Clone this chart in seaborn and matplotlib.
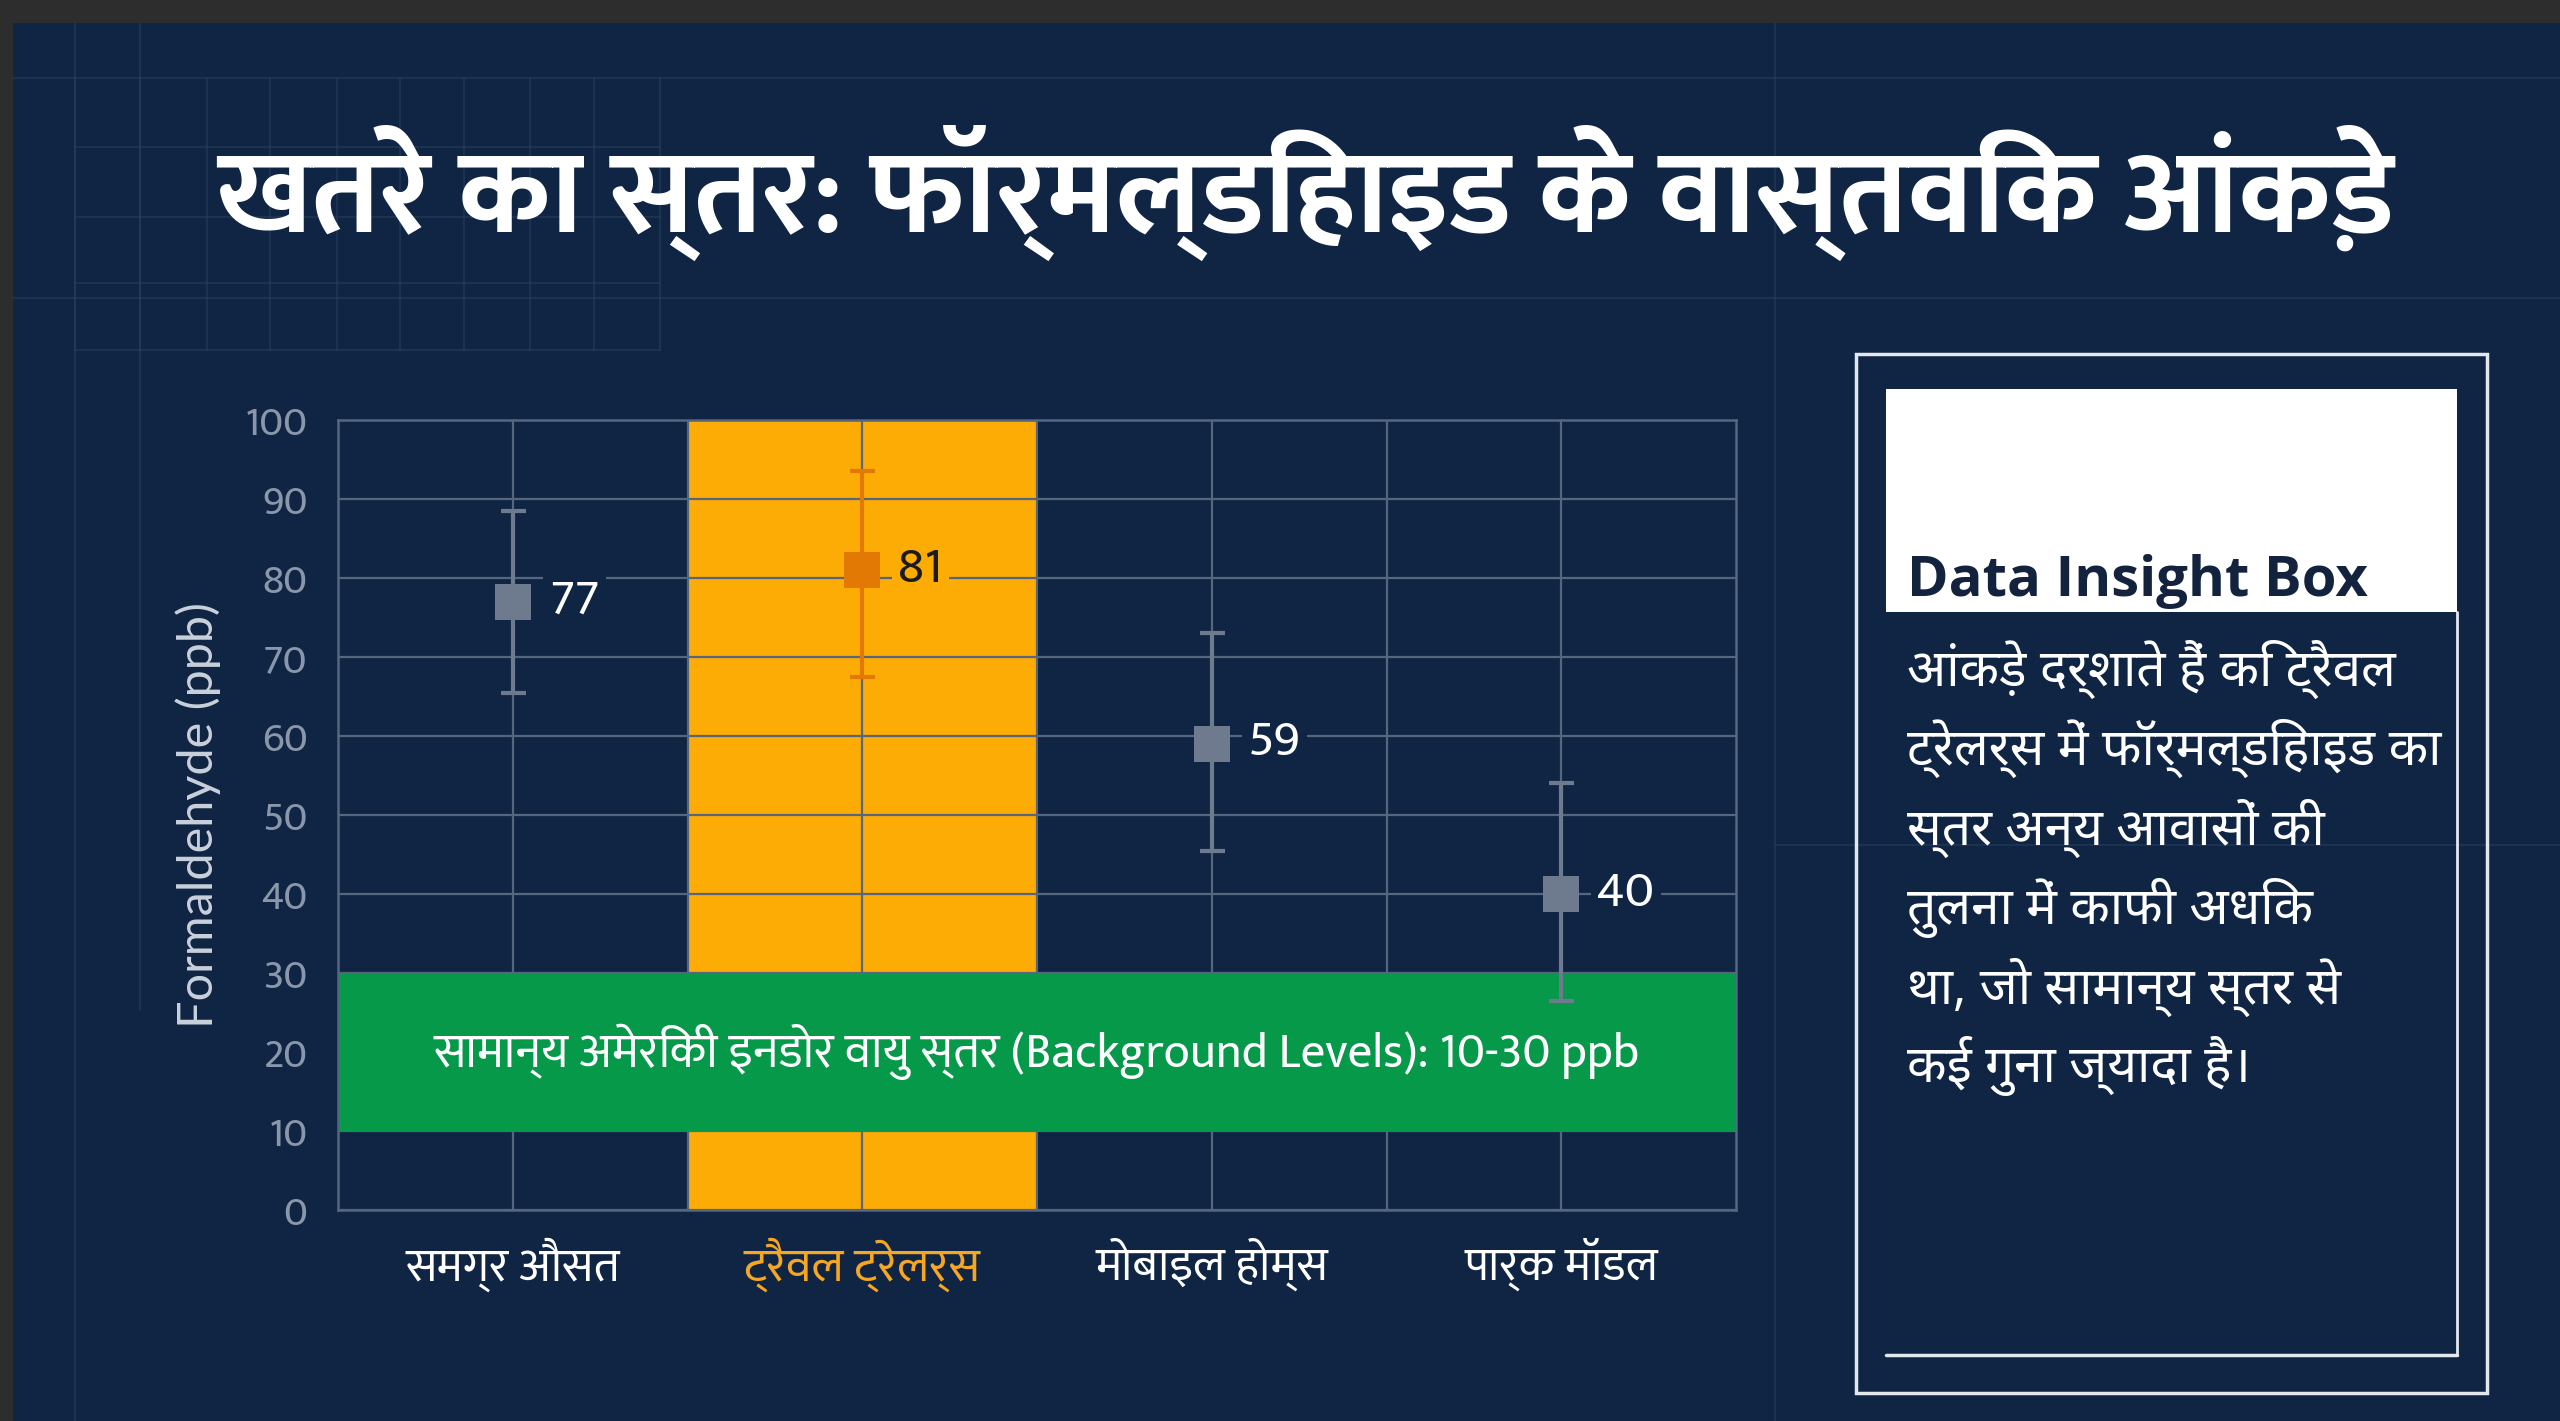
import matplotlib
matplotlib.use("Agg")
import matplotlib.pyplot as plt
from matplotlib import font_manager as fm
from matplotlib.lines import Line2D
from matplotlib.patches import Rectangle
import seaborn as sns
import pandas as pd

# data
categories = ["समग्र औसत", "ट्रैवल ट्रेलर्स", "मोबाइल होम्स", "पार्क मॉडल"]
values = [77, 81, 59, 40]
err_low = [65.5, 67.5, 45.5, 26.5]
err_high = [88.5, 93.5, 73, 54]
highlight = [False, True, False, False]
background_range = [10, 30]
y_ticks = list(range(0, 101, 10))

title = "खतरे का स्तर: फॉर्मल्डिहाइड के वास्तविक आंकड़े"
y_label = "Formaldehyde (ppb)"
band_text = "सामान्य अमेरिकी इनडोर वायु स्तर (Background Levels): 10-30 ppb"
box_title = "Data Insight Box"
box_lines = [
    "आंकड़े दर्शाते हैं कि ट्रैवल",
    "ट्रेलर्स में फॉर्मल्डिहाइड का",
    "स्तर अन्य आवासों की",
    "तुलना में काफी अधिक",
    "था, जो सामान्य स्तर से",
    "कई गुना ज्यादा है।",
]

BG = "#0f2543"
GRID = "#56667e"
GREY = "#6e7b8f"
ORANGE_BAND = "#fdab05"
ORANGE_MARK = "#e27905"
GREEN = "#06994a"
TICK_ORANGE = "#f5a623"

have = {f.name for f in fm.fontManager.ttflist}


def fams(*names):
    return [n for n in names if n in have] + ["DejaVu Sans"]


F_COND = fams("Ek Mukta", "Noto Sans Devanagari", "FreeSans")
F_BODY = fams("Open Sans", "Noto Sans Devanagari", "Ek Mukta", "FreeSans")
F_LABEL = fams("Lato", "Open Sans")

sns.set_style("dark", {"axes.facecolor": BG, "figure.facecolor": BG})

df = pd.DataFrame({
    "category": categories,
    "value": values,
    "group": ["hi" if h else "base" for h in highlight],
})

fig = plt.figure(figsize=(25.6, 14.21), dpi=100)
W, H = 2560, 1421

# window chrome + faint blueprint lines in the background
fig.add_artist(Rectangle((0, 1 - 23 / H), 1, 23 / H, transform=fig.transFigure,
                         fc="#2d2d2d", ec="none", zorder=0))
fig.add_artist(Rectangle((0, 0), 13 / W, 1, transform=fig.transFigure,
                         fc="#2d2d2d", ec="none", zorder=0))
faint = dict(color="#2a4262", lw=1.2, alpha=0.55, zorder=0)
for yy in [78, 298]:
    fig.add_artist(Line2D([13 / W, 1], [1 - yy / H, 1 - yy / H], transform=fig.transFigure, **faint))
for xx in [75, 140, 207, 270, 337, 400, 464, 530, 594, 660]:
    fig.add_artist(Line2D([xx / W, xx / W], [1 - 78 / H, 1 - 350 / H], transform=fig.transFigure, **faint))
for yy in [147, 217, 283, 350]:
    fig.add_artist(Line2D([75 / W, 660 / W], [1 - yy / H, 1 - yy / H], transform=fig.transFigure, **faint))
fig.add_artist(Line2D([75 / W, 75 / W], [0, 1 - 23 / H], transform=fig.transFigure, **faint))
fig.add_artist(Line2D([140 / W, 140 / W], [1 - 1010 / H, 1 - 23 / H], transform=fig.transFigure, **faint))
fig.add_artist(Line2D([1775 / W, 1775 / W], [0, 1 - 23 / H], transform=fig.transFigure, **faint))
fig.add_artist(Line2D([1775 / W, 1], [1 - 845 / H, 1 - 845 / H], transform=fig.transFigure, **faint))

ax = fig.add_axes([338 / W, 1 - 1210 / H, (1736 - 338) / W, (1210 - 420) / H])
ax.set_facecolor(BG)

sns.stripplot(data=df, x="category", y="value", hue="group",
              palette={"base": GREY, "hi": ORANGE_MARK}, marker="s", size=26,
              linewidth=0, jitter=False, legend=False, ax=ax, zorder=6)

for i, (v, lo, hi, h) in enumerate(zip(values, err_low, err_high, highlight)):
    c = ORANGE_MARK if h else GREY
    ax.errorbar([i], [v], yerr=[[v - lo], [hi - v]], fmt="none", ecolor=c,
                elinewidth=3, capsize=9, capthick=3, zorder=5)
    ax.annotate(str(v), (i, v), xytext=(26, 0), textcoords="offset points",
                ha="left", va="center", fontsize=37, family=F_COND,
                color="#1b1b1b" if h else "white", zorder=7,
                bbox=dict(boxstyle="square,pad=0.12", fc=ORANGE_BAND if h else BG, ec="none"))

# highlighted column and the background-level band
for i, h in enumerate(highlight):
    if h:
        ax.axvspan(i - 0.5, i + 0.5, color=ORANGE_BAND, lw=0, zorder=0.2)
ax.axhspan(background_range[0], background_range[1], color=GREEN, lw=0, zorder=2)
ax.text((len(categories) - 1) / 2, sum(background_range) / 2, band_text,
        ha="center", va="center", fontsize=35, color="white", family=F_COND, zorder=3)

ax.set_xlim(-0.5, len(categories) - 0.5)
ax.set_ylim(0, 100)
ax.set_yticks(y_ticks)
ax.set_xticks(range(len(categories)))
ax.set_xticks([i + 0.5 for i in range(len(categories) - 1)], minor=True)
ax.set_xticklabels(categories, fontsize=34, family=F_COND)
for lab, h in zip(ax.get_xticklabels(), highlight):
    lab.set_color(TICK_ORANGE if h else "white")
for lab in ax.get_yticklabels():
    lab.set_fontsize(30)
    lab.set_family(F_COND)
    lab.set_color("#8a97aa")
ax.tick_params(axis="both", which="both", length=0)
ax.tick_params(axis="x", pad=20)
ax.tick_params(axis="y", pad=22)
ax.set_axisbelow(True)
ax.grid(True, axis="y", color=GRID, lw=1.6)
ax.grid(True, axis="x", which="both", color=GRID, lw=1.6)
for sp in ax.spines.values():
    sp.set_visible(True)
    sp.set_color(GRID)
    sp.set_linewidth(1.8)
ax.set_xlabel("")
ax.set_ylabel(y_label, fontsize=35, color="#c9d1dc", family=F_LABEL)
ax.yaxis.set_label_coords(-0.084, 0.5)

# title
fig.text(0.51, 1 - 193 / H, title, ha="center", va="center", fontsize=86,
         weight="bold", color="white", family=F_COND)

# insight box
fig.add_artist(Rectangle((1856 / W, 1 - 1393 / H), (2487 - 1856) / W, (1393 - 354) / H,
                         transform=fig.transFigure, fill=False, ec="#e3e8ee", lw=2.5))
fig.add_artist(Rectangle((1886 / W, 1 - 612 / H), (2457 - 1886) / W, (612 - 389) / H,
                         transform=fig.transFigure, fc="white", ec="none"))
fig.add_artist(Line2D([2457 / W, 2457 / W], [1 - 612 / H, 1 - 1355 / H],
                      transform=fig.transFigure, color="#e3e8ee", lw=2))
fig.add_artist(Line2D([1886 / W, 2457 / W], [1 - 1355 / H, 1 - 1355 / H],
                      transform=fig.transFigure, color="#e3e8ee", lw=2.5))
fig.text(1907 / W, 1 - 596 / H, box_title, ha="left", va="baseline", fontsize=40.5,
         weight="bold", color="#13233d", family=F_BODY)
for k, line in enumerate(box_lines):
    fig.text(1907 / W, 1 - (669 + k * 79.5) / H, line, ha="left", va="center",
             fontsize=37, color="white", family=F_BODY)

fig.savefig("out.png", dpi=100, facecolor=BG)
